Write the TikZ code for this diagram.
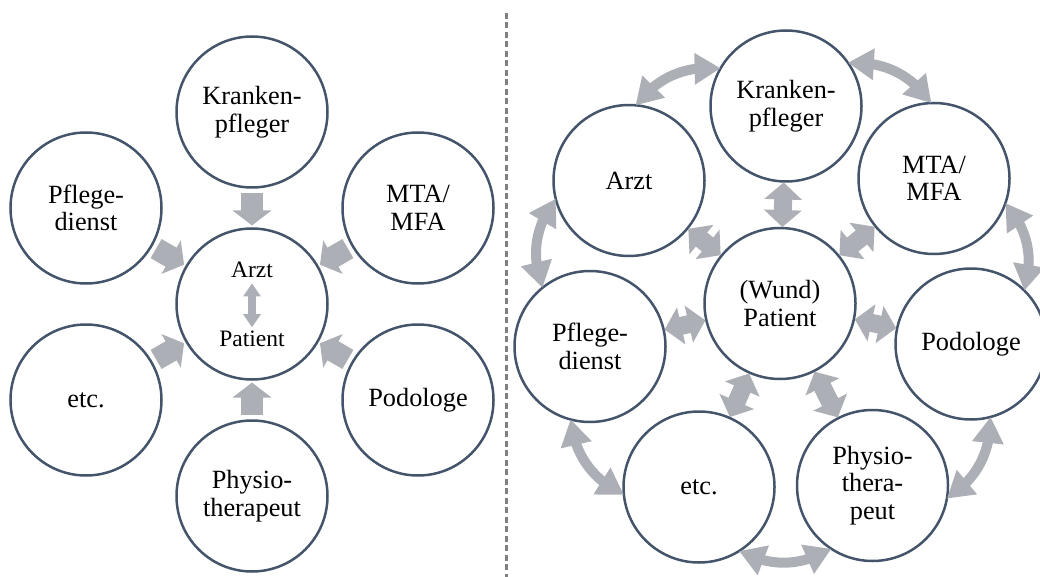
\documentclass[tikz,border=0pt]{standalone}
\usepackage{fontspec}
\setmainfont{Liberation Serif}
\usetikzlibrary{arrows.meta,bending}
\definecolor{ringline}{RGB}{68,84,106}
\definecolor{flowgray}{RGB}{172,175,182}
\definecolor{divider}{RGB}{128,128,128}
\begin{document}
\begin{tikzpicture}[x=1pt,y=-1pt,
  rolecircle/.style={circle,draw=ringline,line width=2.5pt,minimum size=151pt,
    inner sep=0pt,outer sep=0pt,align=center,
    font=\fontsize{26.3}{27.5}\selectfont},
  innertext/.style={inner sep=0pt,anchor=base,font=\fontsize{23.5}{25}\selectfont},
  inflow/.style={draw=flowgray,line width=22pt,
    -{Triangle[width=38pt,length=15pt]},shorten <=5.5pt,shorten >=3pt},
  smallflow/.style={draw=flowgray,line width=8pt,
    {Triangle[width=17pt,length=13pt]}-{Triangle[width=17pt,length=13pt]},
    shorten <=6pt,shorten >=3pt},
  spoke/.style={draw=flowgray,line width=18pt,
    {Triangle[width=37pt,length=17pt]}-{Triangle[width=37pt,length=17pt]},
    shorten <=1pt,shorten >=1pt},
  ringflow/.style={draw=flowgray,line width=10pt,
    {Triangle[width=30pt,length=26pt]}-{Triangle[width=30pt,length=26pt]},
    bend left=28},
  sepline/.style={draw=divider,line width=3pt,dash pattern=on 6pt off 3.5pt}
]
\useasboundingbox (0,0) rectangle (1040,577);

% ---------- left: everyone feeds into doctor and patient ----------
\node[rolecircle] (lC) at (252,304) {};
\node[rolecircle] (lK) at (252,112) {Kranken-\\pfleger};
\node[rolecircle] (lPf) at (86,208) {Pflege-\\dienst};
\node[rolecircle] (lM) at (418,208) {MTA/\\MFA};
\node[rolecircle] (lE) at (86,400) {etc.};
\node[rolecircle] (lPo) at (418,400) {Podologe};
\node[rolecircle] (lPh) at (252,496) {Physio-\\therapeut};

\node[innertext] (lArzt) at (252,277) {Arzt};
\node[innertext] (lPat) at (252,346) {Patient};
\draw[smallflow] (lArzt) -- (lPat);

\foreach \n in {lK,lPf,lM,lE,lPo,lPh}
  \draw[inflow] (\n) -- (lC);

% ---------- divider ----------
\coordinate (sepTop) at (506,13);
\coordinate (sepBot) at (506,577);
\draw[sepline] (sepTop) -- (sepBot);

% ---------- right: network around the (wound) patient ----------
\node[rolecircle] (rW) at (780,303.5) {(Wund)\\Patient};
\node[rolecircle] (rK) at (786,106) {Kranken-\\pfleger};
\node[rolecircle] (rA) at (629,180.5) {Arzt};
\node[rolecircle] (rM) at (934,178.5) {MTA/\\MFA};
\node[rolecircle] (rPf) at (590,346.5) {Pflege-\\dienst};
\node[rolecircle] (rPo) at (971,344) {Podologe};
\node[rolecircle] (rE) at (699,487) {etc.};
\node[rolecircle] (rPh) at (872.5,485.5) {Physio-\\thera-\\peut};

\foreach \n in {rK,rA,rM,rPf,rPo,rE,rPh}
  \draw[spoke] (\n) -- (rW);

\draw[ringflow] (rA.85) to (rK.150);
\draw[ringflow] (rK.35) to (rM.92);
\draw[ringflow] (rM.-19) to (rPo.45);
\draw[ringflow] (rPo.-75) to (rPh.-10);
\draw[ringflow] (rPh.-123) to (rE.-58);
\draw[ringflow] (rE.186) to (rPf.-105);
\draw[ringflow] (rPf.129) to (rA.194);
\end{tikzpicture}
\end{document}
